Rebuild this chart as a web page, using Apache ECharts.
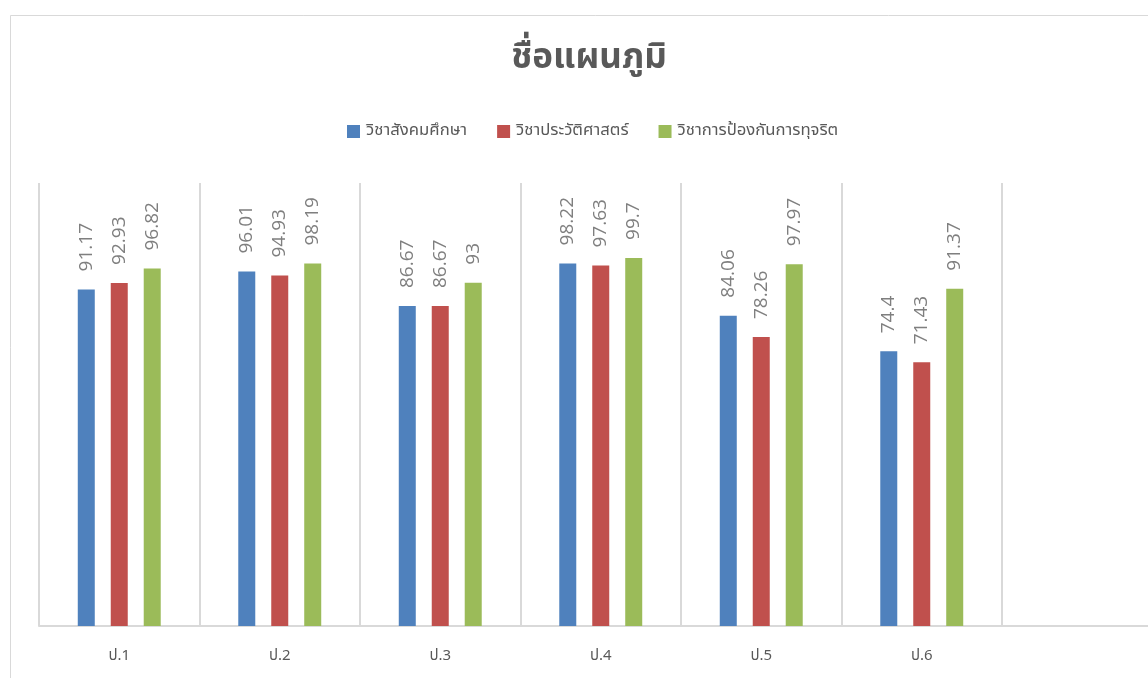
<!DOCTYPE html>
<html>
<head>
<meta charset="utf-8">
<style>
  html, body { margin: 0; padding: 0; background: #ffffff; overflow: hidden; }
  #chart { width: 1180px; height: 678px; }
</style>
<script src="https://cdn.jsdelivr.net/npm/echarts@6/dist/echarts.min.js"></script>
</head>
<body>
<div id="chart"></div>
<script>
// Grade levels (the last slot is left empty)
const categories = ['ป.1', 'ป.2', 'ป.3', 'ป.4', 'ป.5', 'ป.6', ''];
const seriesNames = ['วิชาสังคมศึกษา', 'วิชาประวัติศาสตร์', 'วิชาการป้องกันการทุจริต'];
const socialStudies = [91.17, 96.01, 86.67, 98.22, 84.06, 74.4, null];
const history = [92.93, 94.93, 86.67, 97.63, 78.26, 71.43, null];
const antiCorruption = [96.82, 98.19, 93, 99.7, 97.97, 91.37, null];
const colors = ['#4f81bd', '#c0504d', '#9bbb59'];

const textFont = '"Noto Sans Thai", Tahoma, "DejaVu Sans", sans-serif';
const numFont = '"Open Sans", "Noto Sans", sans-serif';

function makeSeries(name, data, color) {
  return {
    name: name,
    type: 'bar',
    data: data,
    barWidth: 17,
    barGap: '94%',
    itemStyle: { color: color },
    label: {
      show: true,
      position: 'top',
      rotate: 90,
      align: 'left',
      verticalAlign: 'middle',
      distance: 18,
      color: '#7f7f7f',
      fontSize: 19,
      fontFamily: numFont
    }
  };
}

const chart = echarts.init(document.getElementById('chart'));
chart.setOption({
  animation: false,
  backgroundColor: '#ffffff',
  title: {
    text: 'ชื่อแผนภูมิ',
    left: 584,
    top: 38,
    textAlign: 'center',
    textStyle: { color: '#595959', fontSize: 35, fontWeight: 'bold', fontFamily: textFont }
  },
  legend: {
    data: seriesNames,
    left: 342,
    top: 118,
    itemWidth: 13,
    itemHeight: 13,
    itemGap: 30,
    icon: 'rect',
    textStyle: { color: '#595959', fontSize: 16.7, fontFamily: textFont, padding: [0, 0, 0, 1] }
  },
  grid: { left: 39, top: 183, width: 1123.5, height: 443, containLabel: false },
  xAxis: {
    type: 'category',
    data: categories,
    axisLine: { lineStyle: { color: '#d9d9d9', width: 2 } },
    axisTick: { show: false },
    splitLine: { show: true, lineStyle: { color: '#d9d9d9', width: 2 } },
    axisLabel: { color: '#595959', fontSize: 15, margin: 23, fontFamily: textFont }
  },
  yAxis: {
    type: 'value',
    min: 0,
    max: 120,
    show: false,
    splitLine: { show: false }
  },
  graphic: [{
    type: 'rect',
    silent: true,
    z: -1,
    shape: { x: 10.5, y: 15.5, width: 1200, height: 700 },
    style: { fill: 'none', stroke: '#d9d9d9', lineWidth: 1 }
  }],
  series: [
    makeSeries(seriesNames[0], socialStudies, colors[0]),
    makeSeries(seriesNames[1], history, colors[1]),
    makeSeries(seriesNames[2], antiCorruption, colors[2])
  ]
});
</script>
</body>
</html>
